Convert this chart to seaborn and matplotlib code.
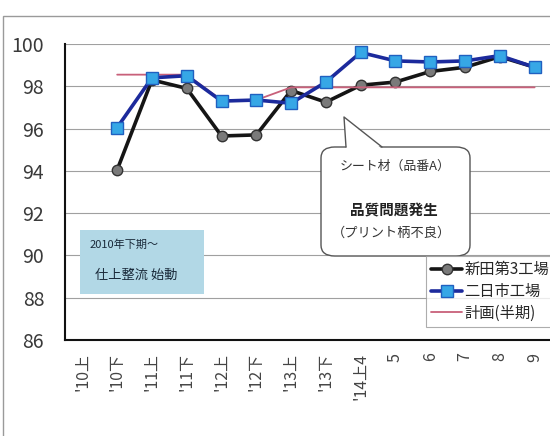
import numpy as np
import pandas as pd
import matplotlib
matplotlib.use("Agg")
import matplotlib.pyplot as plt
import seaborn as sns
from matplotlib.patches import FancyBboxPatch, Polygon, Rectangle
from matplotlib.lines import Line2D

# ---- data ----
categories = ["'10上", "'10下", "'11上", "'11下", "'12上", "'12下", "'13上", "'13下",
              "'14上4", "5", "6", "7", "8", "9"]
nitta = [np.nan, 94.05, 98.3, 97.9, 95.65, 95.7, 97.8, 97.25, 98.05, 98.2, 98.7, 98.9, 99.4, 98.9]
futsukaichi = [np.nan, 96.05, 98.4, 98.5, 97.3, 97.35, 97.2, 98.2, 99.6, 99.2, 99.15, 99.2, 99.45, 98.9]
plan = [np.nan, 98.55, 98.55, 98.55, 97.35, 97.35, 97.95, 97.95, 97.95, 97.95, 97.95, 97.95, 97.95, 97.95]
series_names = ["新田第3工場", "二日市工場", "計画(半期)"]
y_ticks = [86, 88, 90, 92, 94, 96, 98, 100]

sns.set_theme(style="white")
plt.rcParams['font.family'] = ['Noto Sans CJK JP', 'DejaVu Sans']

W, H = 550, 436
fig = plt.figure(figsize=(W / 100, H / 100), dpi=100)

def F(x, y):
    return (x / W, 1 - y / H)

# outer chart border
fig.patches.append(Rectangle(F(3, 470), (W + 20) / W, (470 - 16) / H, transform=fig.transFigure,
                             fill=False, edgecolor="#9a9a9a", lw=1.0, zorder=0))

ax_left, ax_right, ax_top, ax_bot = 65, 552, 44, 340
ax = fig.add_axes([ax_left / W, 1 - ax_bot / H, (ax_right - ax_left) / W, (ax_bot - ax_top) / H])

x = np.arange(len(categories))
df = pd.DataFrame({"x": x, "nitta": nitta, "futsu": futsukaichi, "plan": plan})

sns.lineplot(data=df, x="x", y="nitta", ax=ax, color="#151515", lw=2.6, marker="o",
             markersize=7.5, markerfacecolor="#7a7a7a", markeredgecolor="#333333",
             markeredgewidth=1.0, zorder=3)
sns.lineplot(data=df, x="x", y="plan", ax=ax, color="#c8607a", lw=1.3, zorder=4)
sns.lineplot(data=df, x="x", y="futsu", ax=ax, color="#1c2a9c", lw=2.6, marker="s",
             markersize=8.5, markerfacecolor="#36a7e6", markeredgecolor="#2060c0",
             markeredgewidth=1.0, zorder=5)

ax.set_xlim(-0.5, len(categories) - 0.5)
ax.set_ylim(86, 100)
ax.set_yticks(y_ticks)
ax.set_yticklabels([str(v) for v in y_ticks], fontsize=14, color="#3a3a3a")
ax.set_xticks(x)
ax.set_xticklabels(categories, rotation=90, fontsize=11.5, color="#444444", va="top", ha="center")
ax.set_xticks(np.arange(len(categories) - 1) + 0.5, minor=True)
ax.tick_params(axis="x", which="major", length=0, pad=9)
ax.tick_params(axis="x", which="minor", direction="in", length=4, width=0.8, color="#999999")
ax.tick_params(axis="y", length=0, pad=15)
ax.set_xlabel("")
ax.set_ylabel("")
ax.grid(axis="y", color="#a0a0a0", lw=0.8)
ax.grid(axis="x", visible=False)
for s in ["top", "right"]:
    ax.spines[s].set_visible(False)
for s in ["left", "bottom"]:
    ax.spines[s].set_visible(True)
    ax.spines[s].set_color("#111111")
    ax.spines[s].set_linewidth(1.5)

# light blue note box
fig.patches.append(Rectangle(F(80, 294), (204 - 80) / W, (294 - 230) / H, transform=fig.transFigure,
                             facecolor="#b2d8e6", edgecolor="none", zorder=6))
fig.text(*F(90, 245), "2010年下期～", fontsize=8, color="#1a2a3a", va="center", ha="left", zorder=7)
fig.text(*F(95, 275), "仕上整流 始動", fontsize=9.5, color="#1a2a3a", va="center", ha="left", zorder=7)

# speech bubble
bx0, by0, bx1, by1 = 321, 147, 470, 256
bub = FancyBboxPatch(F(bx0, by1), (bx1 - bx0) / W, (by1 - by0) / H,
                     boxstyle="round,pad=0,rounding_size=0.025", transform=fig.transFigure,
                     facecolor="white", edgecolor="#555555", lw=1.0, zorder=8)
fig.patches.append(bub)
tip = (344, 117)
bl, br = (346, by0), (382, by0)
fig.patches.append(Polygon([F(bl[0] + 0.5, by0 + 1.5), F(*tip), F(br[0] - 0.5, by0 + 1.5)],
                           closed=True, transform=fig.transFigure, facecolor="white",
                           edgecolor="none", zorder=9))
fig.lines.append(Line2D([F(*bl)[0], F(*tip)[0], F(*br)[0]], [F(*bl)[1], F(*tip)[1], F(*br)[1]],
                        transform=fig.transFigure, color="#555555", lw=1.0, zorder=10))
fig.text(*F(395, 166), "シート材（品番A）", fontsize=9.3, color="#333333", ha="center", va="center", zorder=11)
fig.text(*F(394, 210), "品質問題発生", fontsize=10.5, color="#222222", ha="center", va="center",
         fontweight="bold", zorder=11)
fig.text(*F(391, 233), "（プリント柄不良）", fontsize=9.5, color="#333333", ha="center", va="center", zorder=11)

# legend
handles = [
    Line2D([], [], color="#151515", lw=2.6, marker="o", markersize=7.5, markerfacecolor="#7a7a7a",
           markeredgecolor="#333333"),
    Line2D([], [], color="#1c2a9c", lw=2.6, marker="s", markersize=8.5, markerfacecolor="#36a7e6",
           markeredgecolor="#2060c0"),
    Line2D([], [], color="#c8607a", lw=1.3),
]
leg = fig.legend(handles, series_names, loc="upper left", bbox_to_anchor=F(426, 256),
                 bbox_transform=fig.transFigure, fontsize=11, frameon=True, fancybox=False,
                 handlelength=2.0, handletextpad=0.15, borderpad=0.35, labelspacing=0.3,
                 borderaxespad=0)
leg.get_frame().set_edgecolor("#999999")
leg.get_frame().set_linewidth(0.8)
leg.set_zorder(12)

fig.savefig("out.png", dpi=100)
